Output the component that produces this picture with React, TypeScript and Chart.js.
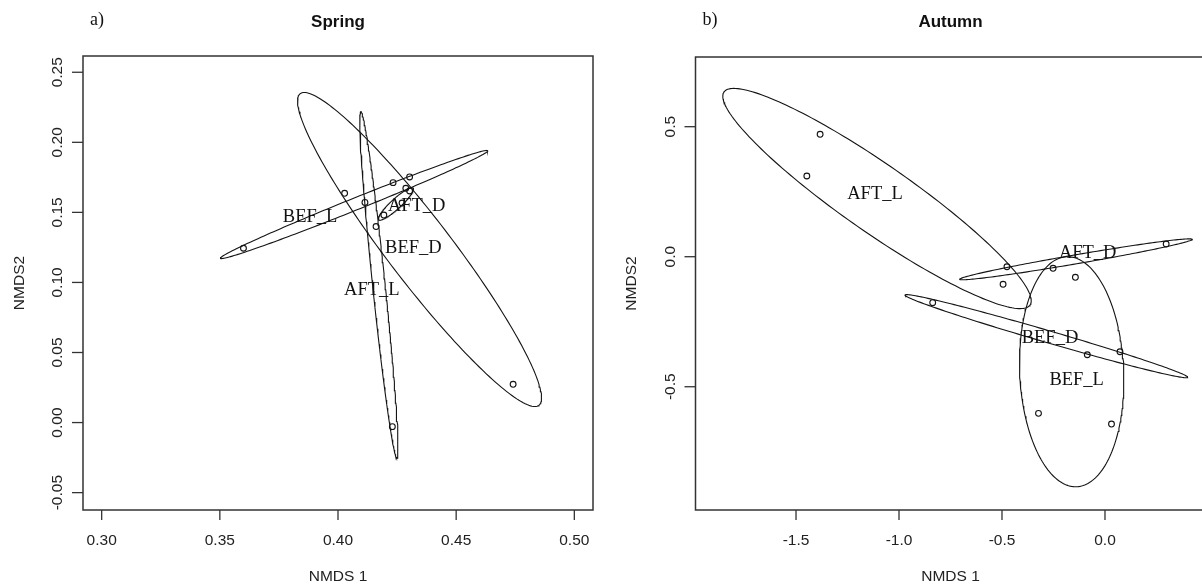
import React, { useEffect, useRef } from "react";
import { Chart, registerables } from "chart.js";

Chart.register(...registerables);

// ---------- Spring (panel a) ----------
const springPointX = [0.36, 0.4028, 0.4114, 0.4233, 0.4303, 0.4287, 0.4303, 0.4271, 0.4194, 0.4161, 0.4741, 0.423];
const springPointY = [0.1244, 0.1636, 0.1571, 0.1712, 0.1753, 0.1672, 0.1653, 0.1567, 0.1481, 0.1399, 0.0273, -0.0029];
const springGroups = ["AFT_D", "AFT_L", "BEF_D", "BEF_L"];
const springLabelX = [0.4333, 0.4143, 0.4319, 0.3882];
const springLabelY = [0.1548, 0.0946, 0.1244, 0.1469];
// ellipse: centre and two conjugate semi-axis vectors (data units)
const springEllCX = [0.4245, 0.4173, 0.4345, 0.4068];
const springEllCY = [0.156, 0.0982, 0.1235, 0.1556];
const springEllUX = [0.007321, 0.007639, 0.0505, 0.05656];
const springEllUY = [0.01131, -0.12367, -0.1112, 0.03839];
const springEllVX = [-0.001427, 0.002653, 0.01071, 0.000948];
const springEllVY = [0.002626, 0.000464, 0.01399, -0.003975];
const springXTicks = [0.3, 0.35, 0.4, 0.45, 0.5];
const springYTicks = [-0.05, 0, 0.05, 0.1, 0.15, 0.2, 0.25];
const springXRange = [0.2921, 0.5079];
const springYRange = [-0.0624, 0.2616];

// ---------- Autumn (panel b) ----------
const autumnPointX = [-1.383, -1.4475, -0.476, -0.4947, -0.252, -0.1437, 0.297, -0.8364, -0.0859, 0.0728, -0.3228, 0.0316];
const autumnPointY = [0.4708, 0.3104, -0.0385, -0.106, -0.0446, -0.0792, 0.0488, -0.1769, -0.3769, -0.3654, -0.6023, -0.6435];
const autumnGroups = ["AFT_D", "AFT_L", "BEF_D", "BEF_L"];
const autumnLabelX = [-0.084, -1.1165, -0.267, -0.1374];
const autumnLabelY = [0.013, 0.2412, -0.3138, -0.474];
const autumnEllCX = [-0.1408, -1.1068, -0.2847, -0.1617];
const autumnEllCY = [-0.01, 0.2238, -0.3056, -0.4423];
const autumnEllUX = [0.5648, 0.7427, 0.6862, 0.02427];
const autumnEllUY = [0.0769, -0.4096, -0.1583, -0.4423];
const autumnEllVX = [-0.00369, 0.0943, 0.00816, 0.2522];
const autumnEllVY = [0.01704, 0.1073, 0.02215, 0.0087];
const autumnXTicks = [-1.5, -1.0, -0.5, 0.0];
const autumnYTicks = [-0.5, 0.0, 0.5];
const autumnXRange = [-1.988, 0.488];
const autumnYRange = [-0.974, 0.768];

const ELLIPSE_STEPS = 200;
const INK = "#141414";
const SANS = "'Liberation Sans', Arial, sans-serif";
const SERIF = "'Liberation Serif', 'Times New Roman', serif";

function ellipsePoints(cx: number, cy: number, ux: number, uy: number, vx: number, vy: number) {
  const pts: { x: number; y: number }[] = [];
  for (let i = 0; i <= ELLIPSE_STEPS; i++) {
    const t = (i / ELLIPSE_STEPS) * Math.PI * 2;
    pts.push({ x: cx + ux * Math.cos(t) + vx * Math.sin(t), y: cy + uy * Math.cos(t) + vy * Math.sin(t) });
  }
  return pts;
}

type PanelProps = {
  width: number;
  height: number;
  left: number;
  padding: { left: number; right: number; top: number; bottom: number };
  letter: string;
  title: string;
  pointX: number[];
  pointY: number[];
  groups: string[];
  labelX: number[];
  labelY: number[];
  ecx: number[];
  ecy: number[];
  eux: number[];
  euy: number[];
  evx: number[];
  evy: number[];
  xTicks: number[];
  yTicks: number[];
  xRange: number[];
  yRange: number[];
  xDigits: number;
  yDigits: number;
};

function Panel(p: PanelProps) {
  const ref = useRef<HTMLCanvasElement | null>(null);
  useEffect(() => {
    if (!ref.current) return;
    const datasets: any[] = [];
    p.groups.forEach((g, i) => {
      datasets.push({
        label: g,
        data: ellipsePoints(p.ecx[i], p.ecy[i], p.eux[i], p.euy[i], p.evx[i], p.evy[i]),
        showLine: true,
        borderColor: INK,
        borderWidth: 1.1,
        pointRadius: 0,
        tension: 0,
        fill: false,
      });
    });
    datasets.push({
      label: "sites",
      data: p.pointX.map((x, i) => ({ x, y: p.pointY[i] })),
      showLine: false,
      pointStyle: "circle",
      pointRadius: 2.9,
      pointBorderWidth: 1.1,
      pointBorderColor: INK,
      pointBackgroundColor: "rgba(0,0,0,0)",
      borderColor: INK,
      backgroundColor: "rgba(0,0,0,0)",
    });

    const decor = {
      id: "decor",
      afterDraw(chart: any) {
        const ctx = chart.ctx as CanvasRenderingContext2D;
        const a = chart.chartArea;
        const xs = chart.scales.x;
        const ys = chart.scales.y;
        ctx.save();
        // group labels
        ctx.fillStyle = "#111";
        ctx.font = `18.5px ${SERIF}`;
        ctx.textAlign = "center";
        ctx.textBaseline = "middle";
        p.groups.forEach((g, i) => {
          ctx.fillText(g, xs.getPixelForValue(p.labelX[i]), ys.getPixelForValue(p.labelY[i]));
        });
        // box
        ctx.strokeStyle = "#333";
        ctx.lineWidth = 1.5;
        ctx.strokeRect(a.left, a.top, a.right - a.left, a.bottom - a.top);
        // x ticks
        ctx.lineWidth = 1.3;
        ctx.fillStyle = "#222";
        ctx.font = `15.5px ${SANS}`;
        ctx.textAlign = "center";
        ctx.textBaseline = "alphabetic";
        p.xTicks.forEach((v) => {
          const x = xs.getPixelForValue(v);
          ctx.beginPath();
          ctx.moveTo(x, a.bottom);
          ctx.lineTo(x, a.bottom + 10);
          ctx.stroke();
          ctx.fillText(v.toFixed(p.xDigits), x, a.bottom + 35);
        });
        // y ticks
        p.yTicks.forEach((v) => {
          const y = ys.getPixelForValue(v);
          ctx.beginPath();
          ctx.moveTo(a.left - 11, y);
          ctx.lineTo(a.left, y);
          ctx.stroke();
          ctx.save();
          ctx.translate(a.left - 21, y);
          ctx.rotate(-Math.PI / 2);
          ctx.fillText(v.toFixed(p.yDigits), 0, 0);
          ctx.restore();
        });
        // axis titles
        const cxMid = (a.left + a.right) / 2;
        const cyMid = (a.top + a.bottom) / 2;
        ctx.fillText("NMDS 1", cxMid, 581);
        ctx.save();
        ctx.translate(a.left - 59.5, cyMid);
        ctx.rotate(-Math.PI / 2);
        ctx.fillText("NMDS2", 0, 0);
        ctx.restore();
        // title
        ctx.fillStyle = "#111";
        ctx.font = `bold 17px ${SANS}`;
        ctx.fillText(p.title, cxMid, 27);
        // panel letter
        ctx.font = `18px ${SERIF}`;
        ctx.textAlign = "left";
        ctx.fillText(p.letter, a.left + 7, 25);
        ctx.restore();
      },
    };

    const chart = new Chart(ref.current, {
      type: "scatter",
      data: { datasets },
      options: {
        responsive: false,
        animation: false,
        events: [],
        layout: { padding: p.padding },
        plugins: { legend: { display: false }, tooltip: { enabled: false }, title: { display: false } },
        scales: {
          x: { type: "linear", display: false, min: p.xRange[0], max: p.xRange[1] },
          y: { type: "linear", display: false, min: p.yRange[0], max: p.yRange[1] },
        },
      },
      plugins: [decor],
    } as any);
    return () => chart.destroy();
  }, []);
  return (
    <canvas
      ref={ref}
      width={p.width}
      height={p.height}
      style={{ position: "absolute", left: p.left, top: 0, width: p.width, height: p.height, display: "block" }}
    />
  );
}

export default function App() {
  return (
    <div
      style={{
        position: "fixed",
        left: 0,
        top: 0,
        width: 1202,
        height: 587,
        overflow: "hidden",
        background: "#fff",
      }}
    >
      <Panel
        width={601}
        height={587}
        left={0}
        padding={{ left: 83, right: 8, top: 56, bottom: 77 }}
        letter="a)"
        title="Spring"
        pointX={springPointX}
        pointY={springPointY}
        groups={springGroups}
        labelX={springLabelX}
        labelY={springLabelY}
        ecx={springEllCX}
        ecy={springEllCY}
        eux={springEllUX}
        euy={springEllUY}
        evx={springEllVX}
        evy={springEllVY}
        xTicks={springXTicks}
        yTicks={springYTicks}
        xRange={springXRange}
        yRange={springYRange}
        xDigits={2}
        yDigits={2}
      />
      <Panel
        width={620}
        height={587}
        left={601}
        padding={{ left: 94.5, right: 15.5, top: 57, bottom: 77 }}
        letter="b)"
        title="Autumn"
        pointX={autumnPointX}
        pointY={autumnPointY}
        groups={autumnGroups}
        labelX={autumnLabelX}
        labelY={autumnLabelY}
        ecx={autumnEllCX}
        ecy={autumnEllCY}
        eux={autumnEllUX}
        euy={autumnEllUY}
        evx={autumnEllVX}
        evy={autumnEllVY}
        xTicks={autumnXTicks}
        yTicks={autumnYTicks}
        xRange={autumnXRange}
        yRange={autumnYRange}
        xDigits={1}
        yDigits={1}
      />
    </div>
  );
}
